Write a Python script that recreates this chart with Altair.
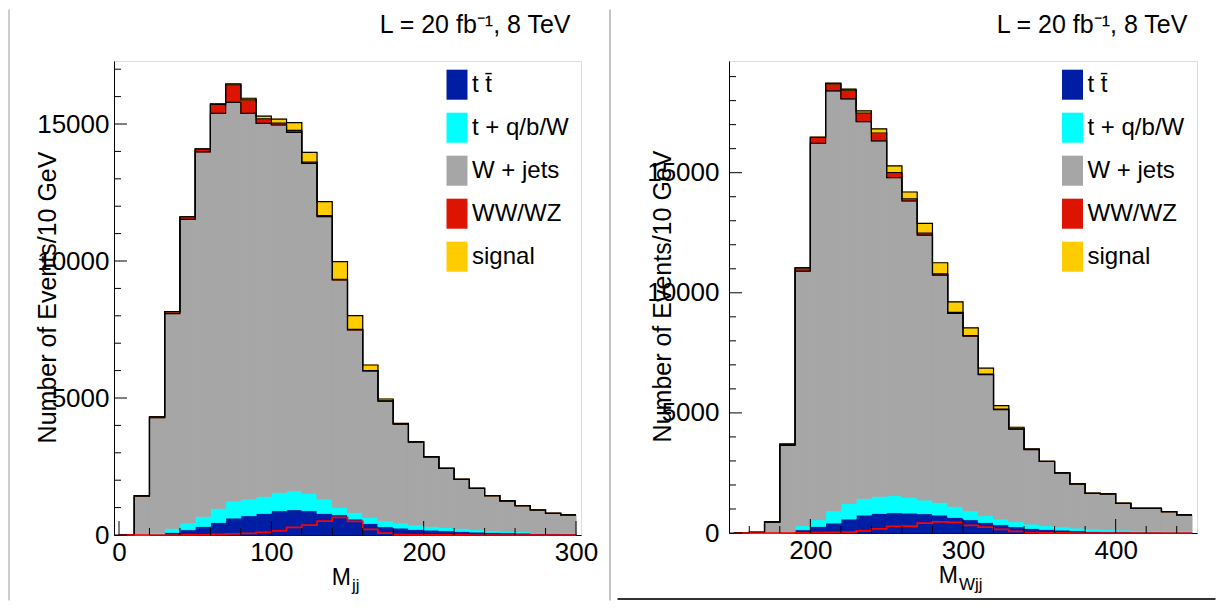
import altair as alt
import pandas as pd

# ---------------- data ----------------
components = ["t t\u0304", "t + q/b/W", "W + jets", "WW/WZ", "signal"]
colors = ["#001ea3", "#00ffff", "#a6a6a6", "#dc1400", "#ffcc00"]

# left panel: M_jj, 10 GeV bins from 0 to 300
edges_L = [0, 10, 20, 30, 40, 50, 60, 70, 80, 90, 100, 110, 120, 130, 140, 150,
           160, 170, 180, 190, 200, 210, 220, 230, 240, 250, 260, 270, 280, 290, 300]
tt_L = [0, 0, 20, 97, 195, 316, 462, 620, 706, 791, 888, 925, 888, 791, 742, 584,
        426, 304, 255, 207, 182, 158, 134, 110, 97, 85, 73, 61, 61, 49]
tq_L = [0, 0, 65, 146, 243, 365, 511, 621, 608, 620, 670, 693, 633, 523, 268, 244,
        219, 219, 183, 158, 134, 122, 109, 85, 61, 49, 49, 36, 24, 24]
wjets_L = [0, 1420, 4195, 7837, 11082, 13299, 14417, 14549, 14076, 13609, 13407, 13077,
           12042, 10306, 8297, 6655, 5341, 4361, 3612, 3027, 2534, 2151, 1787, 1506,
           1277, 1107, 948, 815, 705, 657]
ww_L = [0, 15, 35, 70, 90, 100, 330, 640, 490, 170, 65, 75, 45, 35, 28, 22,
        14, 10, 8, 5, 4, 3, 2, 2, 1, 1, 1, 1, 1, 1]
sig_L = [0, 0, 0, 0, 5, 10, 20, 40, 60, 100, 150, 280, 360, 510, 640, 500,
         205, 70, 15, 8, 4, 2, 1, 0, 0, 0, 0, 0, 0, 0]

# right panel: M_Wjj, 10 GeV bins from 150 to 450
edges_R = [150, 160, 170, 180, 190, 200, 210, 220, 230, 240, 250, 260, 270, 280, 290, 300,
           310, 320, 330, 340, 350, 360, 370, 380, 390, 400, 410, 420, 430, 440, 450]
tt_R = [0, 0, 0, 5, 139, 278, 417, 583, 750, 820, 847, 833, 806, 750, 653, 556,
        444, 347, 264, 194, 153, 125, 97, 69, 56, 56, 42, 42, 28, 28]
tq_R = [0, 0, 0, 15, 167, 278, 514, 653, 694, 708, 709, 653, 569, 528, 458, 375,
        278, 236, 208, 181, 153, 139, 111, 98, 83, 69, 69, 55, 55, 55]
wjets_R = [0, 30, 455, 3630, 10599, 15670, 17474, 16836, 15682, 14794, 13237, 12336,
           11030, 9460, 8031, 7265, 5875, 4557, 3856, 3097, 2670, 2233, 1832, 1486,
           1486, 1111, 917, 931, 806, 667]
ww_R = [0, 0, 5, 50, 130, 240, 295, 364, 356, 330, 207, 85, 77, 53, 44, 26,
        19, 15, 10, 8, 5, 3, 2, 1, 1, 1, 1, 1, 1, 1]
sig_R = [0, 0, 0, 0, 5, 20, 25, 40, 90, 170, 280, 290, 410, 460, 440, 320,
         245, 150, 65, 20, 5, 2, 1, 0, 0, 0, 0, 0, 0, 0]

xmajor_L = [0, 100, 200, 300]
xminor_L = [20, 40, 60, 80, 120, 140, 160, 180, 220, 240, 260, 280]
xmajor_R = [200, 300, 400]
xminor_R = [160, 180, 220, 240, 260, 280, 320, 340, 360, 380, 420, 440]
ymajor = [0, 5000, 10000, 15000]
yminor_L = [1000, 2000, 3000, 4000, 6000, 7000, 8000, 9000, 11000, 12000, 13000, 14000,
            16000, 17000]
yminor_R = yminor_L + [18000, 19000]

lumi_text = "L = 20 fb\u207B\u00B9, 8 TeV"
ytitle = "Number of Events/10 GeV"

FONT = "Liberation Sans"


def stack_df(edges, series):
    rows = []
    for ci, (name, vals) in enumerate(zip(components, series)):
        for i, v in enumerate(vals):
            rows.append({"lo": edges[i], "hi": edges[i + 1], "comp": name, "ord": ci, "n": v})
    return pd.DataFrame(rows)


def step_df(edges, named_series):
    rows = []
    for name, vals in named_series:
        pts = list(vals) + [vals[-1]]
        for e, v in zip(edges, pts):
            rows.append({"lo": e, "n": v, "line": name})
    return pd.DataFrame(rows)


def one(text):
    return pd.DataFrame({"t": [text]})


def panel(edges, series, xdom, ydom, W, H, xmaj, xmin, ymin, label_pad, legx,
          sub_text, m_x, m_y, sub_y, lumi_x, extra_rules):
    tt, tq, wj, ww, sg = series
    grey_top = [a + b + c for a, b, c in zip(tt, tq, wj)]
    red_top = [g + w for g, w in zip(grey_top, ww)]
    total = [r + s for r, s in zip(red_top, sg)]

    xs = alt.Scale(domain=xdom, nice=False, zero=False)
    ys = alt.Scale(domain=ydom, nice=False, zero=True)
    cscale = alt.Scale(domain=components, range=colors)

    ax_x = alt.Axis(
        values=xmaj, ticks=False, grid=False, labelFlush=False, title=None,
        labelPadding=4, format="d", labelFont=FONT, labelFontSize=26,
        labelColor="black", domainColor="black", domainWidth=1)
    ax_y = alt.Axis(
        values=ymajor, ticks=False, grid=False, labelFlush=False, format="d",
        labelFont=FONT, labelFontSize=26, labelColor="black", labelPadding=label_pad,
        domainColor="black", domainWidth=1,
        title=ytitle, titleFont=FONT, titleFontSize=25, titleFontWeight="normal",
        titleColor="black", titleAngle=270, titleAlign="center",
        titleBaseline="alphabetic", titleX=-58.5, titleY=H / 2 - 1)

    def X(field="lo:Q"):
        return alt.X(field, scale=xs, axis=ax_x, title=None)

    def Y(field="n:Q", **kw):
        return alt.Y(field, scale=ys, axis=ax_y, title=ytitle, **kw)

    bars = alt.Chart(stack_df(edges, series)).mark_bar(
        orient="vertical", strokeWidth=1
    ).encode(
        x=X(),
        x2="hi:Q",
        y=Y(stack="zero"),
        color=alt.Color("comp:N", scale=cscale, legend=alt.Legend(
            orient="none", legendX=legx, legendY=11.7, title=None,
            symbolType="M-1,-1.43H1V1.43H-1Z", symbolSize=441,
            symbolStrokeWidth=0, symbolOpacity=1,
            labelFont=FONT, labelFontSize=24, labelColor="black", labelOffset=3,
            labelLimit=400, rowPadding=11, padding=0)),
        stroke=alt.Stroke("comp:N", scale=cscale, legend=None),
        order=alt.Order("ord:Q"),
    )

    outlines = alt.Chart(step_df(edges, [("grey", grey_top), ("red", red_top),
                                         ("total", total)])).mark_line(
        interpolate="step-after", color="black", strokeWidth=1.2
    ).encode(x=X(), y=Y(), detail="line:N")

    sigline = alt.Chart(step_df(edges, [("sig", sg)])).mark_line(
        interpolate="step-after", color="#ff0000", strokeWidth=1.7
    ).encode(x=X(), y=Y())

    # inner tick marks (ROOT style)
    ytick_major = alt.Chart(pd.DataFrame({"n": ymajor})).mark_rule(color="black").encode(
        y=Y(), x=alt.value(0), x2=alt.value(13))
    ytick_minor = alt.Chart(pd.DataFrame({"n": ymin})).mark_rule(color="black").encode(
        y=Y(), x=alt.value(0), x2=alt.value(7))
    xtick_major = alt.Chart(pd.DataFrame({"lo": xmaj})).mark_rule(color="black").encode(
        x=X(), y=alt.value(H), y2=alt.value(H - 14))
    xtick_minor = alt.Chart(pd.DataFrame({"lo": xmin})).mark_rule(color="black").encode(
        x=X(), y=alt.value(H), y2=alt.value(H - 7))

    lumi = alt.Chart(one(lumi_text)).mark_text(
        font=FONT, fontSize=25, align="right", baseline="alphabetic", color="black"
    ).encode(text="t:N", x=alt.value(lumi_x), y=alt.value(-28))

    m_txt = alt.Chart(one("M")).mark_text(
        font=FONT, fontSize=23, align="right", baseline="alphabetic", color="black"
    ).encode(text="t:N", x=alt.value(m_x), y=alt.value(m_y))
    sub_txt = alt.Chart(one(sub_text)).mark_text(
        font=FONT, fontSize=17, align="left", baseline="alphabetic", color="black"
    ).encode(text="t:N", x=alt.value(m_x + 1), y=alt.value(sub_y))

    layers = [bars, outlines, sigline, ytick_major, ytick_minor, xtick_major,
              xtick_minor, lumi, m_txt, sub_txt] + extra_rules
    return alt.layer(*layers).properties(width=W, height=H)


# page decoration lines (pad borders of the original screenshot)
left_border = alt.Chart(one("a")).mark_rule(color="#9a9a9a", strokeWidth=1).encode(
    x=alt.value(-105), y=alt.value(-51.5), y2=alt.value(539.5))
mid_border = alt.Chart(one("b")).mark_rule(color="#8a8a8a", strokeWidth=1).encode(
    x=alt.value(496), y=alt.value(-51.5), y2=alt.value(539.5))
bottom_border = alt.Chart(one("c")).mark_rule(color="#333333", strokeWidth=2).encode(
    x=alt.value(-111.5), x2=alt.value(486.5), y=alt.value(538))

left = panel(edges_L, [tt_L, tq_L, wjets_L, ww_L, sig_L], [0, 300], [0, 17300],
             467, 474, xmajor_L, xminor_L, yminor_L, 5, 331, "jj",
             237, 523.5, 529.5, 456.5, [left_border, mid_border])
right = panel(edges_R, [tt_R, tq_R, wjets_R, ww_R, sig_R], [150, 450], [0, 19650],
              468, 472, xmajor_R, xminor_R, yminor_R, 10, 331.5, "Wjj",
              229, 522, 528.5, 458.4, [bottom_border])

chart = alt.hconcat(left, right, spacing=148, bounds="flush").resolve_scale(
    color="independent", stroke="independent"
).properties(padding=0).configure_view(stroke="#333333", strokeWidth=1).configure(
    background="white"
)

chart.save("out.html", embed_options={"renderer": "svg", "actions": False})
